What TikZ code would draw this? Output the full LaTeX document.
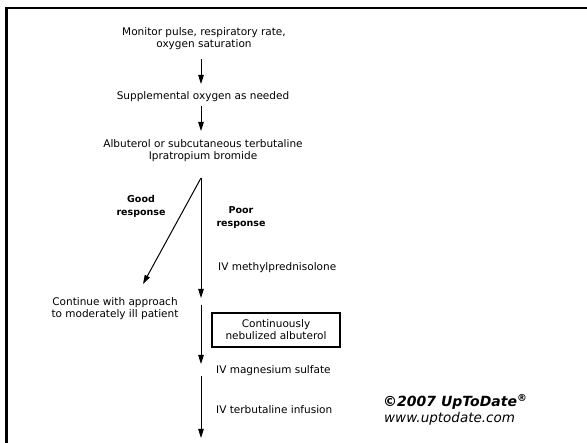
\documentclass[tikz,border=0pt]{standalone}
\usepackage{fontspec}
\setmainfont{DejaVu Sans}
\usetikzlibrary{arrows.meta}
\begin{document}
\begin{tikzpicture}[x=1pt,y=-1pt,
  txt/.style={font=\fontsize{10.5}{12}\selectfont, align=center, inner sep=0pt},
  ltxt/.style={font=\fontsize{10.5}{12}\selectfont, anchor=west, inner sep=0pt},
  lbl/.style={font=\fontsize{9.5}{13}\selectfont\bfseries, align=center, inner sep=0pt},
  arr/.style={line width=1pt, -{Triangle[width=5.5pt,length=9pt]}},
  boxnode/.style={draw, line width=1.6pt, minimum width=128pt, minimum height=34pt, align=center, font=\fontsize{10.5}{12}\selectfont, inner sep=0pt},
  frame/.style={line width=2.8pt}]
\useasboundingbox (0,0) rectangle (587,443);
\draw[frame] (587,8) -- (6.5,8) -- (6.5,443);

\node[txt] (m1) at (204,39) {Monitor pulse, respiratory rate,\\oxygen saturation};
\node[txt] (m2) at (203,97) {Supplemental oxygen as needed};
\node[txt] (m3) at (203,151) {Albuterol or subcutaneous terbutaline\\Ipratropium bromide};

\coordinate (a1s) at (201,59);
\coordinate (a1e) at (201,84);
\coordinate (a2s) at (201,106);
\coordinate (a2e) at (201,131);
\draw[arr] (a1s) -- (a1e);
\draw[arr] (a2s) -- (a2e);

\coordinate (split) at (201,178);
\coordinate (gtip) at (143,284);
\coordinate (ptip) at (201,298);
\draw[arr] (split) -- (gtip);
\draw[arr] (split) -- (ptip);

\node[lbl] (good) at (141,206) {Good\\response};
\node[lbl] (poor) at (241,218) {Poor\\response};

\node[txt] (cont) at (115,309) {Continue with approach\\to moderately ill patient};
\node[ltxt] (methyl) at (218,268) {IV methylprednisolone};

\node[boxnode] (neb) at (276,330) {Continuously\\nebulized albuterol};

\coordinate (b1s) at (201,305);
\coordinate (b1e) at (201,364);
\draw[arr] (b1s) -- (b1e);
\node[ltxt] (mag) at (216,371) {IV magnesium sulfate};
\coordinate (b2s) at (201,376);
\coordinate (b2e) at (201,438);
\draw[arr] (b2s) -- (b2e);
\node[ltxt] (terb) at (216,410) {IV terbutaline infusion};

\node[font=\fontsize{14}{16}\selectfont\bfseries\itshape, anchor=west, inner sep=0pt] (copy) at (383,402) {©2007 UpToDate\textsuperscript{®}};
\node[font=\fontsize{13.5}{16}\selectfont\itshape, anchor=west, inner sep=0pt] (url) at (384,419) {www.uptodate.com};
\end{tikzpicture}
\end{document}
